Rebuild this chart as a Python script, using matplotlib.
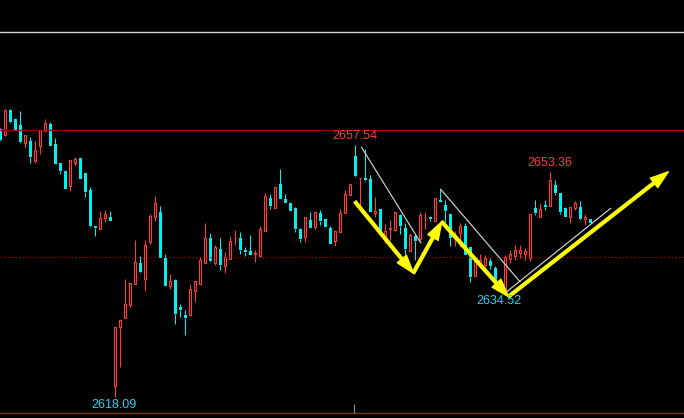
import numpy as np
import matplotlib
matplotlib.use("Agg")
import matplotlib.pyplot as plt

# candle data (one bar per slot, left to right)
opens = [2660.0, 2659.1, 2663.0, 2661.6, 2660.7, 2657.9, 2658.2, 2655.0, 2657.4, 2659.8,
         2660.8, 2657.7, 2654.7, 2653.5, 2651.1, 2654.7, 2655.5, 2653.2, 2650.5, 2644.9,
         2644.4, 2646.1, 2646.3, 2619.8, 2629.0, 2630.5, 2632.4, 2635.7, 2639.1, 2636.5,
         2642.4, 2646.3, 2647.0, 2639.8, 2635.5, 2636.4, 2632.2, 2630.9, 2630.9, 2634.6,
         2635.8, 2639.1, 2643.0, 2639.1, 2641.2, 2638.6, 2639.7, 2642.9, 2643.0, 2641.1,
         2640.9, 2640.5, 2640.2, 2644.1, 2649.2, 2647.7, 2651.4, 2649.1, 2648.4, 2647.7,
         2644.4, 2643.1, 2645.8, 2644.7, 2646.9, 2646.0, 2644.5, 2642.5, 2643.9, 2646.9,
         2649.7, 2655.9, 2652.3, 2652.4, 2652.2, 2646.9, 2647.5, 2642.9, 2644.4, 2644.2,
         2646.6, 2644.5, 2640.9, 2643.3, 2642.8, 2646.2, 2646.3, 2645.7, 2649.0, 2648.1,
         2646.8, 2642.9, 2643.8, 2644.9, 2641.6, 2637.0, 2638.9, 2638.7, 2639.3, 2638.3,
         2635.5, 2635.0, 2639.7, 2640.1, 2640.6, 2640.5, 2639.8, 2647.6, 2646.3, 2648.1,
         2648.0, 2651.3, 2650.1, 2647.6, 2646.2, 2647.6, 2647.9, 2645.9, 2645.9]
highs = [2660.2, 2663.2, 2663.2, 2661.6, 2662.9, 2659.1, 2658.8, 2658.2, 2659.9, 2661.6,
         2661.1, 2658.6, 2654.7, 2653.5, 2655.2, 2655.7, 2655.5, 2653.2, 2651.0, 2644.9,
         2647.2, 2647.4, 2647.2, 2629.0, 2630.1, 2636.5, 2635.9, 2642.7, 2640.2, 2642.7,
         2646.7, 2649.6, 2648.0, 2640.5, 2637.3, 2636.5, 2632.6, 2631.7, 2635.8, 2636.2,
         2640.0, 2645.3, 2643.8, 2641.9, 2643.0, 2640.8, 2643.3, 2644.2, 2643.9, 2641.6,
         2643.4, 2641.1, 2644.9, 2650.0, 2649.9, 2651.0, 2653.8, 2649.9, 2648.4, 2647.8,
         2644.5, 2646.3, 2647.0, 2647.0, 2647.4, 2646.0, 2644.9, 2644.1, 2647.5, 2650.5,
         2651.4, 2657.54, 2652.4, 2656.9, 2652.8, 2649.4, 2647.5, 2645.2, 2645.8, 2647.0,
         2646.8, 2645.3, 2643.8, 2643.6, 2647.1, 2647.0, 2646.5, 2649.3, 2650.6, 2649.0,
         2646.8, 2644.0, 2645.3, 2645.3, 2641.6, 2639.8, 2640.4, 2640.3, 2639.8, 2638.6,
         2636.6, 2640.3, 2641.1, 2641.9, 2641.9, 2641.4, 2646.7, 2649.0, 2648.5, 2648.9,
         2653.36, 2652.1, 2650.1, 2647.9, 2647.9, 2648.7, 2648.7, 2646.7, 2645.9]
lows = [2658.2, 2659.0, 2661.0, 2659.7, 2657.8, 2657.1, 2654.8, 2654.8, 2656.1, 2659.8,
        2657.4, 2654.6, 2653.0, 2650.7, 2650.3, 2654.4, 2652.2, 2649.4, 2644.7, 2643.3,
        2644.4, 2645.5, 2645.6, 2618.09, 2622.8, 2630.5, 2632.1, 2635.7, 2637.5, 2634.6,
        2642.1, 2645.7, 2639.9, 2635.5, 2635.0, 2629.5, 2630.6, 2627.8, 2630.8, 2632.9,
        2635.8, 2639.1, 2639.2, 2638.7, 2637.9, 2637.5, 2639.7, 2641.9, 2640.5, 2640.2,
        2640.3, 2639.2, 2640.2, 2644.1, 2647.5, 2647.7, 2649.1, 2648.4, 2647.2, 2643.9,
        2642.3, 2642.3, 2644.5, 2644.4, 2645.0, 2644.7, 2642.0, 2641.7, 2643.9, 2646.9,
        2649.7, 2652.5, 2647.7, 2651.9, 2647.1, 2646.3, 2643.8, 2642.2, 2642.6, 2644.1,
        2643.6, 2639.9, 2640.9, 2639.5, 2642.4, 2644.4, 2645.6, 2645.7, 2648.6, 2645.5,
        2641.7, 2641.7, 2641.6, 2640.3, 2636.1, 2637.0, 2638.5, 2638.4, 2638.1, 2635.3,
        2635.0, 2634.52, 2639.0, 2639.5, 2639.8, 2639.5, 2639.4, 2646.6, 2646.3, 2647.4,
        2648.0, 2649.7, 2646.8, 2646.2, 2645.4, 2647.4, 2645.8, 2645.0, 2645.3]
closes = [2658.4, 2663.0, 2661.2, 2659.7, 2658.0, 2659.1, 2655.7, 2656.8, 2659.9, 2661.0,
          2657.4, 2654.6, 2653.5, 2650.7, 2655.2, 2655.4, 2652.2, 2650.2, 2644.9, 2644.5,
          2646.1, 2646.8, 2645.6, 2629.0, 2630.1, 2632.6, 2635.9, 2639.2, 2637.6, 2641.9,
          2646.4, 2648.4, 2639.9, 2635.5, 2636.2, 2631.1, 2631.7, 2630.4, 2635.0, 2636.2,
          2639.5, 2643.0, 2639.4, 2641.6, 2638.7, 2640.0, 2642.5, 2643.0, 2641.1, 2640.8,
          2640.3, 2640.6, 2644.4, 2649.6, 2648.0, 2651.0, 2649.1, 2648.4, 2647.2, 2644.4,
          2642.8, 2646.3, 2644.5, 2647.0, 2645.6, 2644.7, 2642.0, 2644.1, 2646.9, 2649.9,
          2651.4, 2652.7, 2652.4, 2652.1, 2647.1, 2647.2, 2643.9, 2644.1, 2644.6, 2647.0,
          2644.9, 2641.2, 2643.4, 2642.5, 2646.6, 2646.3, 2646.0, 2649.3, 2648.6, 2647.2,
          2643.0, 2643.4, 2644.9, 2640.3, 2636.9, 2639.3, 2639.6, 2639.8, 2638.6, 2635.8,
          2636.2, 2640.0, 2640.4, 2641.1, 2641.1, 2641.0, 2646.7, 2646.9, 2647.5, 2647.9,
          2652.1, 2650.1, 2647.1, 2646.2, 2647.9, 2648.4, 2645.9, 2646.3, 2645.3]

# marked extremes: (bar index, price)
marks = [(71, 2657.54), (110, 2653.36), (101, 2634.52), (23, 2618.09)]

# reference levels
level_white = 2675.26
level_red = 2659.9
level_dotted = 2640.0
level_bottom = 2615.55

# hand-drawn trend lines and arrows (bar index, price)
trend_lines = [[(72.24, 2657.19), (84.08, 2642.23)],
               [(88.08, 2650.61), (103.94, 2636.13)],
               [(101.28, 2634.56), (122.08, 2647.63)]]
arrow_pts = [(70.94, 2648.66), (82.6, 2637.49), (88.28, 2645.53),
             (101.64, 2633.78), (133.6, 2653.36)]

RED = "#ff3c3c"
CYAN = "#00f0f0"
CYAN_TXT = "#22d2f2"

o = np.array(opens)
h = np.array(highs)
l = np.array(lows)
c = np.array(closes)
x = np.arange(len(o))
up = c >= o

fig = plt.figure(figsize=(6.84, 4.18), dpi=100, facecolor="black")
ax = fig.add_axes([0, 0, 1, 1])
ax.set_facecolor("black")
ax.set_xlim(-0.06, 136.74)
ax.set_ylim(2614.77, 2680.27)
ax.axis("off")

# level lines
ax.axhline(level_white, color="#d8d8d8", lw=1.0)
ax.axhline(level_red, color="#a00000", lw=0.9)
ax.axhline(level_dotted, color="#a00000", lw=0.9, linestyle=(0, (1, 2)))
ax.axhline(level_bottom, color="#d00000", lw=1.0)
ax.vlines(70.74, level_bottom, 2616.9, color="#909090", lw=0.8)

# wicks
top = np.maximum(o, c)
bot = np.minimum(o, c)
cols = np.where(up, RED, CYAN)
ax.vlines(x, top, h, colors=cols, lw=0.75)
ax.vlines(x, l, bot, colors=cols, lw=0.75)

# bodies
body = np.maximum(top - bot, 0.12)
ax.bar(x[up], body[up], bottom=bot[up], width=0.46, facecolor="black",
       edgecolor=RED, linewidth=0.8)
ax.bar(x[~up], body[~up], bottom=bot[~up], width=0.6, color=CYAN, linewidth=0)

# white trend lines
for (x0, y0), (x1, y1) in trend_lines:
    ax.plot([x0, x1], [y0, y1], color="#dcdcdc", lw=0.8)

# yellow arrows
for p0, p1 in zip(arrow_pts[:-1], arrow_pts[1:]):
    ax.annotate("", xy=p1, xytext=p0,
                arrowprops=dict(arrowstyle="simple,head_length=1.3,head_width=0.85,tail_width=0.2",
                                color="#ffff00", mutation_scale=10, shrinkA=0, shrinkB=0))

# price labels
lab_pos = [(70.94, 2658.96, RED), (109.94, 2654.73, RED),
           (99.74, 2633.1, CYAN_TXT), (22.74, 2616.81, CYAN_TXT)]
for (i, p), (tx, ty, col) in zip(marks, lab_pos):
    ax.text(tx, ty, f"{p:.2f}", color=col, fontsize=9, family="Liberation Sans",
            ha="center", va="center")

fig.savefig("out.png", dpi=100, facecolor="black")
